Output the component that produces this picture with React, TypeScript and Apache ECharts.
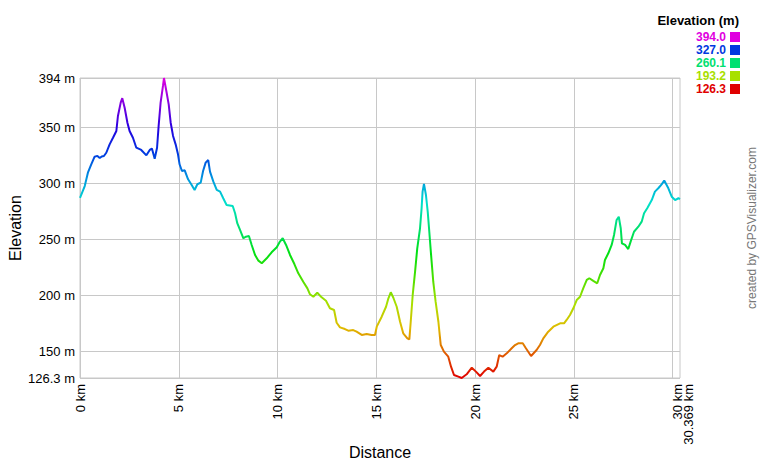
import React, { useEffect, useRef } from "react";
import * as echarts from "echarts";

const distanceKm: number[] = [
  0.0, 0.24, 0.4, 0.57, 0.74, 0.88, 1.0, 1.1, 1.21, 1.33, 1.5, 1.67, 1.84, 1.92, 2.06, 2.14, 2.26, 2.4,
  2.51, 2.68, 2.85, 3.1, 3.36, 3.53, 3.64, 3.78, 3.9, 3.98, 4.08, 4.2, 4.25, 4.37, 4.49, 4.59, 4.71,
  4.84, 4.96, 5.04, 5.16, 5.3, 5.47, 5.63, 5.8, 5.94, 6.11, 6.23, 6.36, 6.49, 6.58, 6.75, 6.92, 7.09,
  7.25, 7.42, 7.73, 7.85, 7.96, 8.1, 8.27, 8.4, 8.55, 8.69, 8.86, 9.03, 9.2, 9.45, 9.7, 9.96, 10.12,
  10.26, 10.43, 10.63, 10.85, 11.05, 11.3, 11.51, 11.64, 11.81, 12.01, 12.23, 12.45, 12.65, 12.86,
  12.99, 13.16, 13.41, 13.58, 13.83, 14.0, 14.26, 14.51, 14.76, 14.93, 15.02, 15.27, 15.49, 15.61,
  15.73, 15.86, 16.03, 16.2, 16.36, 16.57, 16.67, 16.74, 16.84, 16.96, 17.07, 17.21, 17.29, 17.34,
  17.41, 17.51, 17.6, 17.68, 17.77, 17.88, 18.0, 18.14, 18.26, 18.42, 18.64, 18.78, 18.93, 19.15,
  19.32, 19.57, 19.83, 20.04, 20.25, 20.45, 20.67, 20.92, 21.09, 21.22, 21.39, 21.6, 21.85, 22.02,
  22.18, 22.41, 22.57, 22.83, 23.11, 23.28, 23.45, 23.7, 23.96, 24.3, 24.5, 24.63, 24.8, 24.97, 25.14,
  25.31, 25.47, 25.65, 25.78, 25.98, 26.18, 26.32, 26.49, 26.57, 26.74, 26.91, 27.03, 27.16, 27.27,
  27.37, 27.43, 27.59, 27.75, 27.87, 28.04, 28.26, 28.43, 28.55, 28.71, 28.94, 29.1, 29.27, 29.44,
  29.57, 29.78, 29.95, 30.12, 30.29, 30.369,
];

const elevationM: number[] = [
  287, 297.6, 309.5, 317, 323.8, 324.5, 322.6, 324, 324.4, 327.3, 334.8, 340.7, 346.7, 360.1, 372, 376,
  367.5, 354.1, 346.7, 340.7, 331.8, 329.8, 325, 329.8, 331, 322, 331.8, 351.2, 372, 386.9, 394, 382.4,
  370.5, 354.1, 342.3, 334.8, 325.9, 317, 311, 311.6, 303.6, 299.2, 294.1, 299.2, 300.6, 311, 318.5,
  320.8, 310.4, 301.5, 294.1, 292.6, 286.7, 280.7, 279.8, 273.3, 264.4, 258.4, 251, 252.4, 253, 245,
  236.1, 231, 228.7, 233.1, 238.5, 243, 248, 251, 245, 236.1, 228, 219.7, 212.2, 206.3, 201, 198.8,
  202.4, 198.3, 195.3, 188.5, 187, 175.6, 171.5, 170, 168.5, 169.1, 167.6, 164.7, 165.6, 164.7, 164.7,
  172.1, 181, 189.9, 197.4, 202.8, 197.9, 189.9, 176.5, 166.2, 161.7, 160.8, 176.5, 200.4, 221.2, 242,
  259.9, 277.7, 292.6, 299.5, 289.6, 274.7, 256.8, 236.1, 212.2, 194.4, 176.5, 155.7, 149.8, 145.3,
  136.4, 129, 127.5, 126.3, 129.6, 135.5, 132, 128.1, 132, 135.5, 132, 136.4, 146.8, 145.3, 148.3,
  152.8, 155.7, 157.3, 157.3, 152.8, 145.9, 151.3, 155.7, 161.7, 167.6, 172.1, 175.1, 175.1, 178.1,
  182.5, 188.5, 195.9, 198.8, 206.3, 213.8, 215.3, 212.9, 210.8, 218.2, 224.2, 231.6, 237.6, 245,
  253.9, 267.3, 270.2, 259.9, 246.5, 245, 241.4, 248, 256.8, 261.3, 265.8, 273.3, 277.7, 285.1, 292.6,
  295.6, 299.1, 302.5, 295.6, 288.1, 285.1, 286.7, 286,
];

const yTicks: number[] = [126.3, 150, 200, 250, 300, 350, 394];
const xTicks: number[] = [0, 5, 10, 15, 20, 25, 30];
const xEndTick: number[] = [30.369];
const legendValues: string[] = ["394.0", "327.0", "260.1", "193.2", "126.3"];
const legendColors: string[] = ["#e000e0", "#0038e0", "#00e070", "#a8e000", "#e00000"];
const hueStops: string[] = [
  "#e00000", "#e05d00", "#e0bb00", "#a8e000", "#4be000", "#00e013", "#00e070",
  "#00e0cd", "#0095e0", "#0038e0", "#2500e0", "#8300e0", "#e000e0",
];

const FONT = "'Liberation Sans', Arial, sans-serif";

export default function App() {
  const ref = useRef<HTMLDivElement>(null);
  useEffect(() => {
    document.body.style.margin = "0";
    if (!ref.current) return;
    const chart = echarts.init(ref.current, null, { renderer: "svg" });
    const data = distanceKm.map((d, i) => [d, elevationM[i]]);
    const legendGraphics: any[] = [
      {
        type: "text",
        x: 739,
        y: 20,
        style: {
          text: "Elevation (m)",
          font: `bold 13px ${FONT}`,
          fill: "#000",
          align: "right",
          verticalAlign: "middle",
        },
      },
    ];
    legendValues.forEach((v, i) => {
      const y = 37 + i * 13;
      legendGraphics.push({
        type: "text",
        x: 726,
        y,
        style: {
          text: v,
          font: `bold 12px ${FONT}`,
          fill: legendColors[i],
          align: "right",
          verticalAlign: "middle",
        },
      });
      legendGraphics.push({
        type: "rect",
        shape: { x: 730, y: y - 5, width: 10, height: 10 },
        style: { fill: legendColors[i] },
      });
    });
    legendGraphics.push({
      type: "text",
      x: 752,
      y: 228,
      rotation: Math.PI / 2,
      style: {
        text: "created by GPSVisualizer.com",
        font: `12px ${FONT}`,
        fill: "#777",
        align: "center",
        verticalAlign: "middle",
      },
    });

    const labelStyle = {
      rotate: 90,
      margin: 6,
      fontFamily: FONT,
      fontSize: 13,
      color: "#000",
    };

    chart.setOption({
      animation: false,
      backgroundColor: "#fff",
      grid: {
        left: 80,
        right: 80,
        top: 78,
        bottom: 82,
        show: true,
        borderColor: "#c8c8c8",
        borderWidth: 1,
        containLabel: false,
        outerBoundsMode: "none",
      },
      visualMap: {
        type: "continuous",
        show: false,
        seriesIndex: 0,
        dimension: 1,
        min: 126.3,
        max: 394,
        inRange: { color: hueStops },
      },
      xAxis: [
        {
          type: "value",
          min: 0,
          max: 30.369,
          name: "Distance",
          nameLocation: "middle",
          nameGap: 66,
          nameMoveOverlap: false,
          nameTextStyle: { fontFamily: FONT, fontSize: 16, color: "#000" },
          axisLine: { show: false },
          axisTick: { show: false, customValues: xTicks },
          axisLabel: {
            ...labelStyle,
            customValues: xTicks,
            formatter: (v: number) => (v === 30 ? `{end|${v} km}` : `${v} km`),
            rich: {
              end: { fontFamily: FONT, fontSize: 13, color: "#000", padding: [9, 0, 0, 0] },
            },
          },
          splitLine: { show: true, lineStyle: { color: "#c8c8c8", width: 1 } },
        },
        {
          type: "value",
          position: "bottom",
          min: 0,
          max: 30.369,
          axisLine: { show: false },
          axisTick: { show: false, customValues: xEndTick },
          axisLabel: {
            ...labelStyle,
            customValues: xEndTick,
            formatter: (v: number) => `{end|${v} km}`,
            rich: {
              end: { fontFamily: FONT, fontSize: 13, color: "#000", padding: [16, 0, 0, 0] },
            },
          },
          splitLine: { show: false },
        },
      ],
      yAxis: {
        type: "value",
        min: 126.3,
        max: 394,
        name: "Elevation",
        nameLocation: "middle",
        nameGap: 57,
        nameMoveOverlap: false,
        nameTextStyle: { fontFamily: FONT, fontSize: 16, color: "#000" },
        axisLine: { show: false },
        axisTick: { show: false, customValues: yTicks },
        axisLabel: {
          customValues: yTicks,
          margin: 5,
          fontFamily: FONT,
          fontSize: 13,
          color: "#000",
          formatter: (v: number) => `${v} m`,
        },
        splitLine: { show: true, lineStyle: { color: "#c8c8c8", width: 1 } },
      },
      graphic: legendGraphics,
      series: [
        {
          type: "line",
          xAxisIndex: 0,
          data,
          showSymbol: false,
          symbol: "none",
          lineStyle: { width: 2 },
        },
      ],
    });
    return () => chart.dispose();
  }, []);
  return <div ref={ref} style={{ width: 760, height: 460 }} />;
}
